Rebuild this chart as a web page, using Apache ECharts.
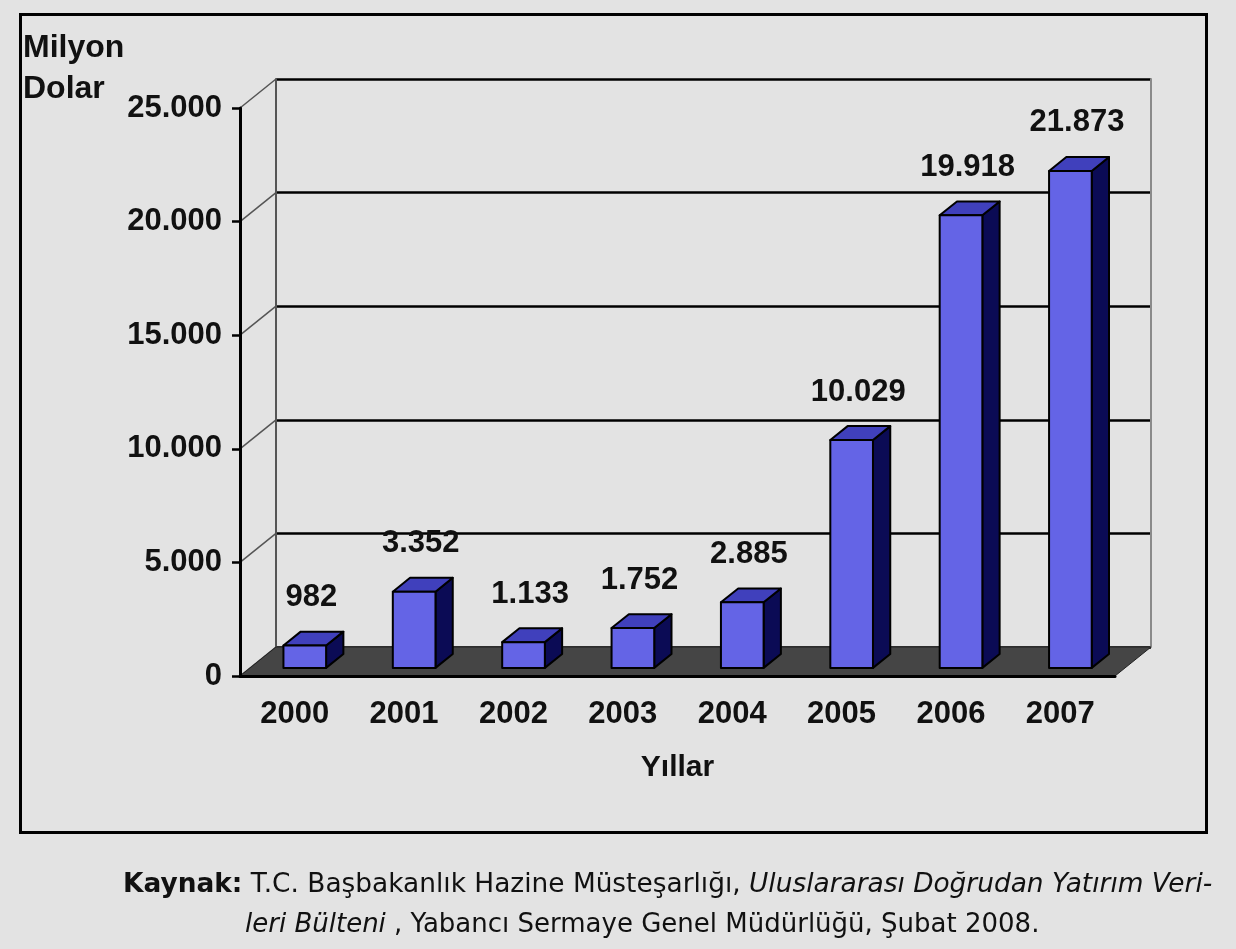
<!DOCTYPE html>
<html>
<head>
<meta charset="utf-8">
<script src="https://cdn.jsdelivr.net/npm/echarts@6/dist/echarts.min.js"></script>
<style>
  html, body { margin: 0; padding: 0; background: #e3e3e3; }
  #chart { width: 1236px; height: 949px; }
</style>
</head>
<body>
<div id="chart"></div>
<script>
// data
const years = ['2000', '2001', '2002', '2003', '2004', '2005', '2006', '2007'];
const fdi = [982, 3352, 1133, 1752, 2885, 10029, 19918, 21873];
const yTicks = [0, 5000, 10000, 15000, 20000, 25000];

// 3d look: depth of the floor in pixels
const DX = 36, DY = -29;
const F1 = 0.28, F2 = 0.76;   // where the bar sits in the depth
const TXT = '#111';
const FONT = 'Liberation Sans';

const dotted = v => String(v).replace(/\B(?=(\d{3})+(?!\d))/g, '.');

const chart = echarts.init(document.getElementById('chart'));

const option = {
  backgroundColor: '#e3e3e3',
  animation: false,
  grid: [
    { left: 240, right: 121, top: 108, bottom: 273 },
    { left: 240 + DX, right: 121 - DX, top: 108 + DY, bottom: 273 - DY }
  ],
  xAxis: [
    {
      type: 'category', data: years, gridIndex: 0, z: 5,
      axisLine: { lineStyle: { color: '#000', width: 3 } },
      axisTick: { length: 8, lineStyle: { color: '#000', width: 2.5 } },
      axisLabel: { margin: 23, fontSize: 31, fontWeight: 'bold', color: TXT, fontFamily: FONT },
      name: 'Yıllar', nameLocation: 'middle', nameGap: 77,
      nameTextStyle: { fontSize: 30, fontWeight: 'bold', color: TXT, fontFamily: FONT }
    },
    { type: 'category', data: years, gridIndex: 1, show: false }
  ],
  yAxis: [
    {
      type: 'value', gridIndex: 0, min: 0, max: 25000, interval: 5000, z: 5,
      axisLine: { show: true, lineStyle: { color: '#000', width: 3 } },
      axisTick: { show: true, length: 8, lineStyle: { color: '#000', width: 2.5 } },
      splitLine: { show: false },
      axisLabel: { margin: 18, fontSize: 31, fontWeight: 'bold', color: TXT, fontFamily: FONT, formatter: dotted }
    },
    {
      // back wall
      type: 'value', gridIndex: 1, min: 0, max: 25000, interval: 5000,
      axisLine: { show: true, lineStyle: { color: '#555', width: 2 } },
      axisTick: { show: false }, axisLabel: { show: false },
      splitLine: { show: true, lineStyle: { color: '#000', width: 2.5 } }
    },
    {
      type: 'value', gridIndex: 1, position: 'right', min: 0, max: 25000, interval: 5000,
      axisLine: { show: true, lineStyle: { color: '#8a8a8a', width: 2 } },
      axisTick: { show: false }, axisLabel: { show: false }, splitLine: { show: false }
    }
  ],
  series: [
    {
      // side wall lines
      type: 'custom', xAxisIndex: 0, yAxisIndex: 0, z: 1,
      data: yTicks.map(v => [0, v]),
      renderItem: (params, api) => {
        const p = api.coord([0, api.value(1)]);
        const x = p[0] - api.size([1, 0])[0] / 2;
        return {
          type: 'line',
          shape: { x1: x, y1: p[1], x2: x + DX, y2: p[1] + DY },
          style: { stroke: '#555', lineWidth: 1.5 }
        };
      }
    },
    {
      // floor
      type: 'custom', xAxisIndex: 0, yAxisIndex: 0, z: 2,
      data: [[0, 0]],
      renderItem: (params, api) => {
        const half = api.size([1, 0])[0] / 2;
        const a = api.coord([0, 0]);
        const b = api.coord([years.length - 1, 0]);
        return {
          type: 'polygon',
          shape: { points: [
            [a[0] - half, a[1]], [b[0] + half, b[1]],
            [b[0] + half + DX, b[1] + DY], [a[0] - half + DX, a[1] + DY]
          ] },
          style: { fill: '#454545', stroke: '#222', lineWidth: 1 }
        };
      }
    },
    {
      type: 'custom', xAxisIndex: 0, yAxisIndex: 0, z: 3,
      data: fdi.map((v, i) => [i, v]),
      renderItem: (params, api) => {
        const v = api.value(1);
        const top = api.coord([api.value(0), v]);
        const base = api.coord([api.value(0), 0]);
        const band = api.size([1, 0])[0];
        const w = band * 0.39;
        const x0 = top[0] - w / 2 + DX * F1, x1 = x0 + w;
        const yt = top[1] + DY * F1, yb = base[1] + DY * F1;
        const dx = DX * (F2 - F1), dy = DY * (F2 - F1);
        const edge = { stroke: '#000', lineWidth: 2, lineJoin: 'round' };
        return {
          type: 'group',
          children: [
            { type: 'polygon', shape: { points: [[x1, yt], [x1, yb], [x1 + dx, yb + dy], [x1 + dx, yt + dy]] },
              style: Object.assign({ fill: '#0b0b55' }, edge) },
            { type: 'polygon', shape: { points: [[x0, yt], [x1, yt], [x1 + dx, yt + dy], [x0 + dx, yt + dy]] },
              style: Object.assign({ fill: '#4040bc' }, edge) },
            { type: 'rect', shape: { x: x0, y: yt, width: w, height: yb - yt },
              style: Object.assign({ fill: '#6464e6' }, edge) },
            { type: 'text', x: top[0] + DX * (F1 + F2) / 2 - 2, y: yt - 48,
              style: { text: dotted(v), fontSize: 31, fontWeight: 'bold', fontFamily: FONT,
                       fill: TXT, align: 'center', verticalAlign: 'middle' } }
          ]
        };
      }
    }
  ],
  graphic: [
    { type: 'rect', left: 18, top: 12, z: 10,
      shape: { width: 1186, height: 818 },
      style: { fill: 'none', stroke: '#000', lineWidth: 3 } },
    { type: 'text', left: 23, top: 28,
      style: { text: 'Milyon\nDolar', fontSize: 32, fontWeight: 'bold', fontFamily: FONT,
               fill: TXT, lineHeight: 41 } },
    { type: 'text', left: 123, top: 872,
      style: { text: '{b|Kaynak:} T.C. Başbakanlık Hazine Müsteşarlığı, {i|Uluslararası Doğrudan Yatırım Veri-}',
               fontSize: 26.4, fontFamily: 'DejaVu Sans', fill: TXT,
               rich: { b: { fontWeight: 'bold', fontSize: 26.4, fontFamily: 'DejaVu Sans', fill: TXT },
                       i: { fontStyle: 'italic', fontSize: 26.4, fontFamily: 'DejaVu Sans', fill: TXT } } } },
    { type: 'text', left: 245, top: 912,
      style: { text: '{i|leri Bülteni} , Yabancı Sermaye Genel Müdürlüğü, Şubat 2008.',
               fontSize: 26, fontFamily: 'DejaVu Sans', fill: TXT,
               rich: { i: { fontStyle: 'italic', fontSize: 26, fontFamily: 'DejaVu Sans', fill: TXT } } } }
  ]
};

chart.setOption(option);
</script>
</body>
</html>
